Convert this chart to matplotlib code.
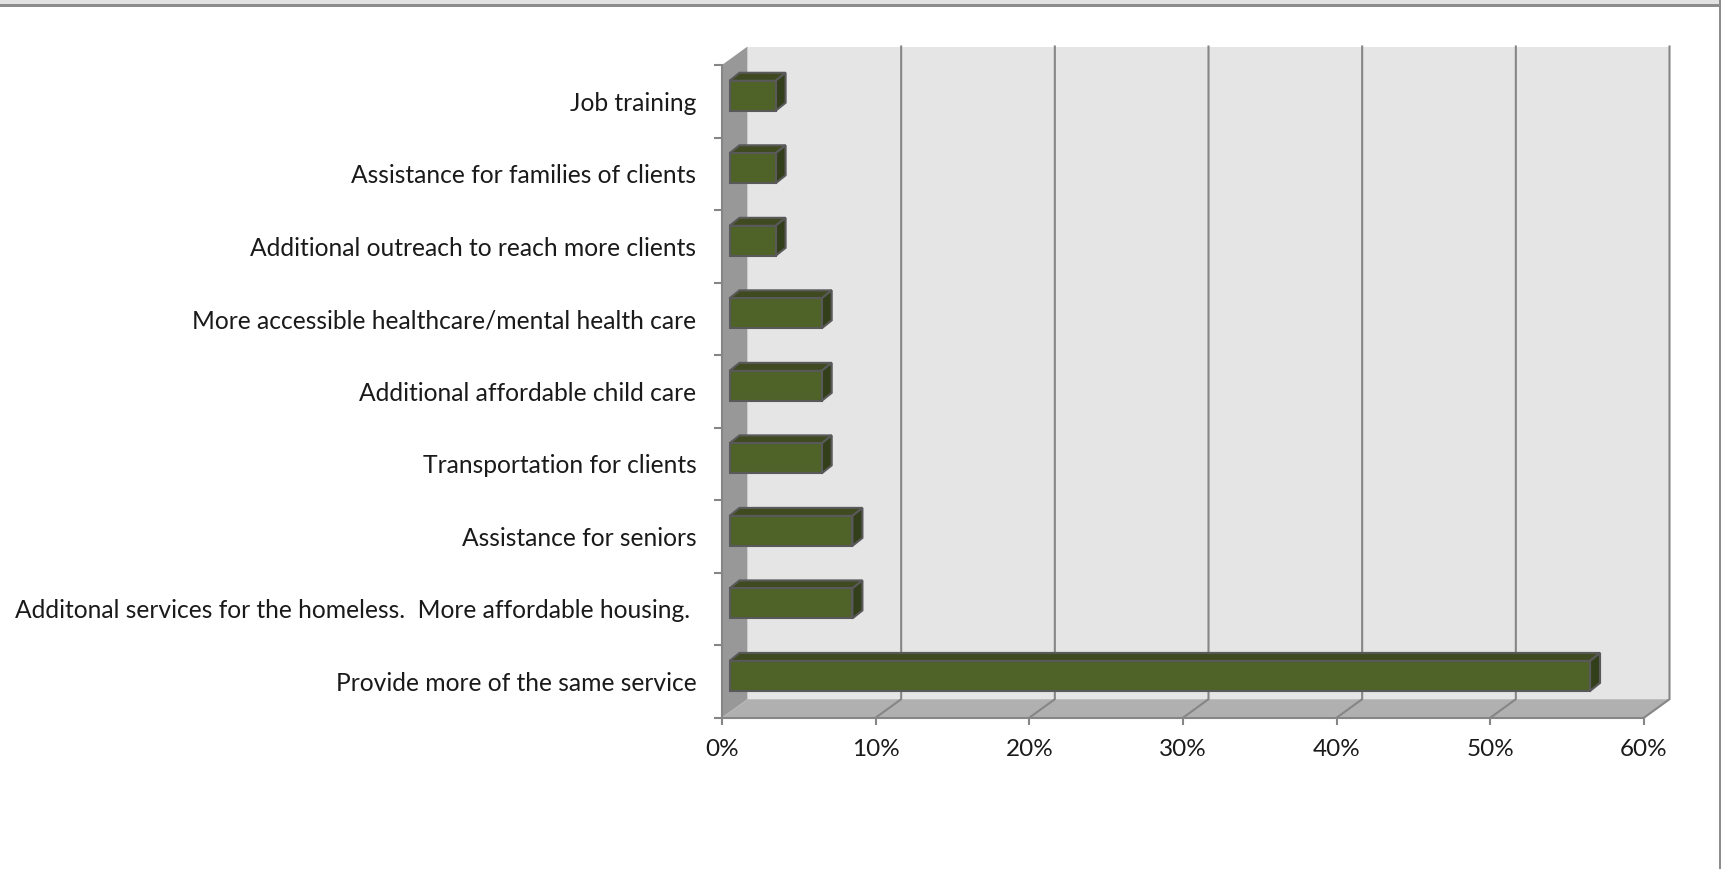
import matplotlib
matplotlib.use("Agg")
import matplotlib.pyplot as plt
from matplotlib.patches import Polygon, Rectangle
import numpy as np

categories = ["Provide more of the same service",
              "Additonal services for the homeless.  More affordable housing. ",
              "Assistance for seniors",
              "Transportation for clients",
              "Additional affordable child care",
              "More accessible healthcare/mental health care",
              "Additional outreach to reach more clients",
              "Assistance for families of clients",
              "Job training"]
values = [56.0, 8.0, 8.0, 6.0, 6.0, 6.0, 3.0, 3.0, 3.0]
xticks = [0, 10, 20, 30, 40, 50, 60]
xticklabels = ["0%", "10%", "20%", "30%", "40%", "50%", "60%"]

W, H = 1721, 869
x0, x1 = 722, 1644     # front plane in pixels
ytop, ybot = 65, 717.7

plt.rcParams["font.family"] = ["Lato", "DejaVu Sans"]

fig = plt.figure(figsize=(W / 100, H / 100), dpi=100, facecolor="white")
ax = fig.add_axes([x0 / W, 1 - ybot / H, (x1 - x0) / W, (ybot - ytop) / H])
ax.set_xlim(0, 60)
ax.set_ylim(0, len(categories))
ax.patch.set_visible(False)
for s in ax.spines.values():
    s.set_visible(False)

# depth of the fake 3d box, pixels to data units
ux = (x1 - x0) / 60
uy = (ybot - ytop) / len(categories)
wall_dx, wall_dy = 25.5 / ux, 18.5 / uy
bar_off_x, bar_off_y = 7.5 / ux, 5.5 / uy
bar_dx, bar_dy = 10 / ux, 8 / uy
bar_h = 30 / uy
n = len(categories)
grey = "#868686"

# walls
ax.add_patch(Rectangle((wall_dx, wall_dy), 60, n, fc="#e5e5e5", ec="none", clip_on=False, zorder=1))
ax.add_patch(Polygon([(0, 0), (0, n), (wall_dx, n + wall_dy), (wall_dx, wall_dy)],
                     fc="#989898", ec="none", clip_on=False, zorder=2))
ax.add_patch(Polygon([(0, 0), (60, 0), (60 + wall_dx, wall_dy), (wall_dx, wall_dy)],
                     fc="#b0b0b0", ec="none", clip_on=False, zorder=2))

# gridlines, up the back wall and across the floor
for t in xticks[1:]:
    ax.plot([t, t + wall_dx, t + wall_dx], [0, wall_dy, n + wall_dy], color=grey, lw=1.5,
            clip_on=False, zorder=3, solid_joinstyle="miter")
ax.plot([0, 60], [0, 0], color=grey, lw=1.5, clip_on=False, zorder=3)
ax.plot([0, 0], [0, n], color=grey, lw=1.5, clip_on=False, zorder=3)

# bars
edge = "#595959"
for i, v in enumerate(values):
    left = bar_off_x
    right = left + v
    y0 = i + 0.5 + bar_off_y - bar_h / 2
    y1 = y0 + bar_h
    ax.barh(y0 + bar_h / 2, v, height=bar_h, left=left, color="#4f6228", edgecolor=edge,
            linewidth=1.5, clip_on=False, zorder=6)
    ax.add_patch(Polygon([(left, y1), (right, y1), (right + bar_dx, y1 + bar_dy), (left + bar_dx, y1 + bar_dy)],
                         fc="#3f4a20", ec=edge, lw=1.5, clip_on=False, zorder=5))
    ax.add_patch(Polygon([(right, y0), (right, y1), (right + bar_dx, y1 + bar_dy), (right + bar_dx, y0 + bar_dy)],
                         fc="#333f1a", ec=edge, lw=1.5, clip_on=False, zorder=5))

# ticks
ax.set_xticks(xticks)
ax.set_xticklabels(xticklabels, fontsize=17.5, color="#1a1a1a")
ax.tick_params(axis="x", length=5, width=1.5, color=grey, pad=10)
ax.set_yticks(np.arange(n + 1))
ax.set_yticklabels([])
ax.set_yticks(np.arange(n) + 0.5, minor=True)
ax.set_yticklabels(categories, minor=True, fontsize=17.7, color="#1a1a1a")
ax.tick_params(axis="y", which="major", length=6, width=1.5, color=grey)
ax.tick_params(axis="y", which="minor", length=0, pad=18.5)

# window frame left over from the screenshot
fig.add_artist(Rectangle((0, 1 - 4 / H), 1, 4 / H, transform=fig.transFigure, fc="#e2e2e2", ec="none"))
fig.add_artist(Rectangle((0, 1 - 6.5 / H), 1, 2.5 / H, transform=fig.transFigure, fc="#8c8c8c", ec="none"))
fig.add_artist(Rectangle((1718.5 / W, 0), 2.5 / W, 1, transform=fig.transFigure, fc="#8c8c8c", ec="none"))

fig.savefig("out.png", dpi=100)
